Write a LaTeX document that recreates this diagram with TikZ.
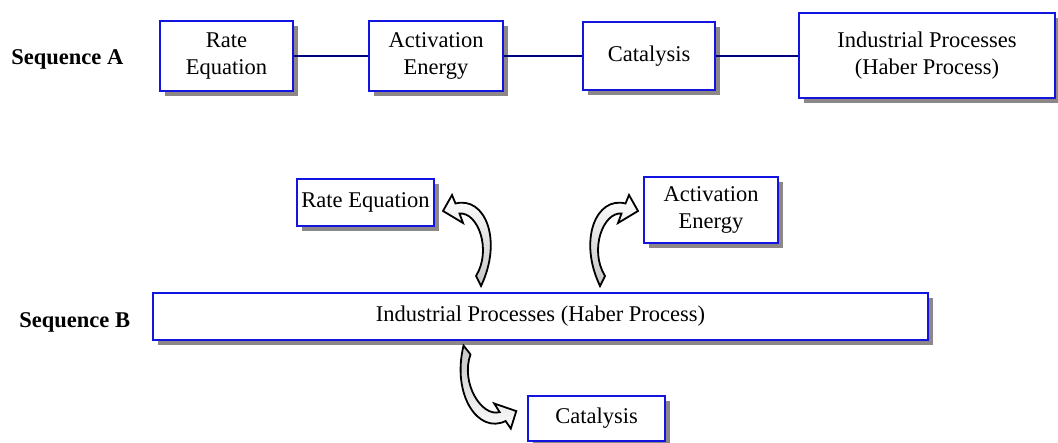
\documentclass[tikz,border=0pt]{standalone}
\usepackage{fontspec}
\setmainfont{Liberation Serif}
\usepackage{tikz}
\usetikzlibrary{shadows}
\definecolor{bblue}{HTML}{1414E0}
\definecolor{sgray}{HTML}{8E8787}
\definecolor{lnavy}{HTML}{00007F}
\newcommand{\txtsize}{\fontsize{11.25}{13.5}\selectfont}
% bent ribbon arrow, tail centre at the origin
\newcommand{\bentarrow}[3]{%
	\begin{scope}[#1]
	\draw[bent, top color=#2, bottom color=#3] (-35.5,-70) -- (-26.5,-86) -- (-23,-77.5)
	.. controls (6.5,-85) and (24.5,-41) .. (2.5,5) -- (-2.5,-5)
	.. controls (13.5,-31) and (-0.5,-69) .. (-19,-67.5) -- (-15.5,-58) -- cycle;
	\end{scope}}

\begin{document}
\begin{tikzpicture}[x=0.5pt, y=-0.5pt, font=\txtsize,
		box/.style={draw=bblue, line width=1pt, fill=white, align=center, inner sep=0pt,
			drop shadow={shadow xshift=2.5pt, shadow yshift=-2.5pt, fill=sgray, opacity=1}},
		boxsize/.style 2 args={minimum width=#1*0.5pt, minimum height=#2*0.5pt},
		link/.style={draw=lnavy, line width=1pt},
		seq/.style={font=\txtsize\bfseries, anchor=west, inner sep=0pt},
		bent/.style={draw=black, line width=0.9pt, line join=miter}]
		\useasboundingbox (0,0) rectangle (1058,443);
		%sequence A
		\node[seq] (seqa) at (11,59) {Sequence A};
		\node[box, boxsize={133}{70}] (ra) at (226.5,56) {Rate\\Equation};
		\node[box, boxsize={134}{70}] (aa) at (436,56) {Activation\\Energy};
		\node[box, boxsize={132}{68}] (ca) at (649,56) {Catalysis};
		\node[box, boxsize={256}{85}] (ia) at (927,56) {Industrial Processes\\(Haber Process)};
		\draw[link] (ra) -- (aa);
		\draw[link] (aa) -- (ca);
		\draw[link] (ca) -- (ia);
		%sequence B
		\node[seq] (seqb) at (19,322) {Sequence B};
		\node[box, boxsize={775}{47}] (ib) at (540.5,316.5) {Industrial Processes (Haber Process)};
		\node[box, boxsize={137}{47}] (rb) at (365.5,202.5) {Rate Equation};
		\node[box, boxsize={134}{66}] (ab) at (711,210) {Activation\\Energy};
		\node[box, boxsize={137}{45}] (cb) at (596.5,418.5) {Catalysis};
		\bentarrow{shift={(478.5,281)}}{white}{gray!45}
		\bentarrow{shift={(602.5,281)}, xscale=-1}{white}{gray!45}
		\bentarrow{shift={(467,350)}, rotate=-168}{gray!45}{white}
\end{tikzpicture}
\end{document}
